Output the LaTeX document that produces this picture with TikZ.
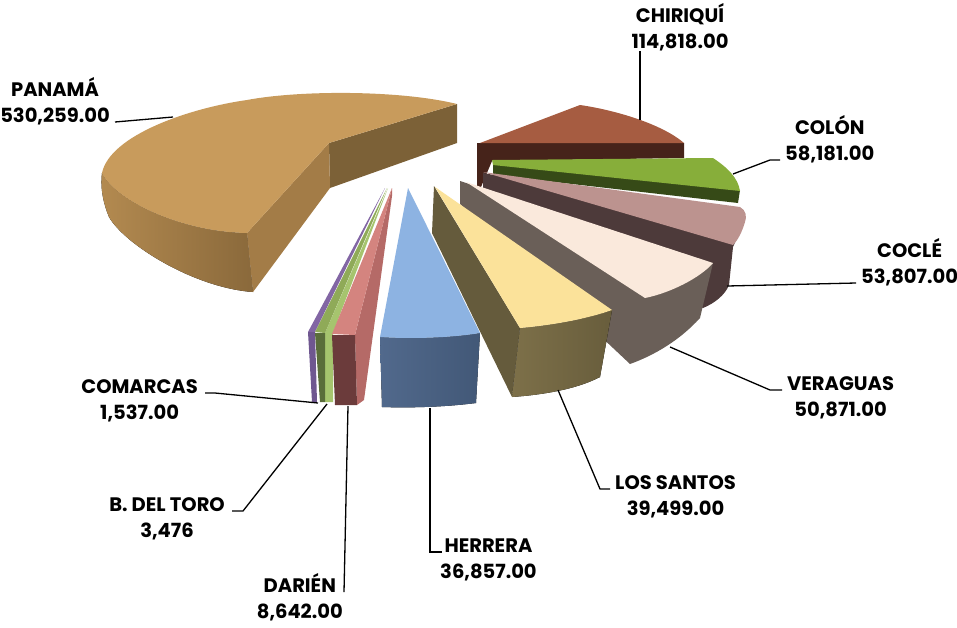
\documentclass[tikz,border=0pt]{standalone}
\usepackage{fontspec}
\setmainfont{Poppins}
\definecolor{panTop}{HTML}{C89B5C}
\definecolor{panFront}{HTML}{A37C47}
\definecolor{panSide}{HTML}{7C6137}
\definecolor{panOutL}{HTML}{B38A50}
\definecolor{panOutR}{HTML}{8A693B}
\definecolor{chiTop}{HTML}{A65C41}
\definecolor{chiSide}{HTML}{46231A}
\definecolor{colTop}{HTML}{87AE3A}
\definecolor{colSide}{HTML}{364A17}
\definecolor{cocTop}{HTML}{BC938F}
\definecolor{cocSide}{HTML}{4D3A3A}
\definecolor{verTop}{HTML}{FAE9DC}
\definecolor{verSide}{HTML}{6A5F58}
\definecolor{losTop}{HTML}{FBE29A}
\definecolor{losSide}{HTML}{655B3C}
\definecolor{losOutL}{HTML}{7D7049}
\definecolor{losOutR}{HTML}{685D3C}
\definecolor{herTop}{HTML}{8DB3E2}
\definecolor{herOutL}{HTML}{51698C}
\definecolor{herOutR}{HTML}{425877}
\definecolor{darTop}{HTML}{D4847F}
\definecolor{darSide}{HTML}{B56A67}
\definecolor{darFront}{HTML}{6B3B3B}
\definecolor{bdtTop}{HTML}{8FAA58}
\definecolor{bdtSide}{HTML}{A6C46E}
\definecolor{bdtFront}{HTML}{5A6D3A}
\definecolor{comTop}{HTML}{8266A4}
\definecolor{comFront}{HTML}{6F5790}
\tikzset{
    %Define style for the labels
    lbl/.style={
           font=\fontsize{19.5}{26}\selectfont\bfseries,
           align=center,
           inner xsep=5pt,
           inner ysep=0pt,
           text=black},
    %Define style for leader lines
    ldr/.style={
           draw=black,
           line width=1.3pt}
}
\begin{document}
\begin{tikzpicture}[x=1pt,y=-1pt]
\useasboundingbox (0,0) rectangle (957,627);

%Panama
\fill[left color=panOutL, right color=panOutR] (102,173) .. controls (115,200) and (180,232) .. (247,233) -- (253,292) .. controls (195,288) and (125,245) .. (109,217) .. controls (104,205) and (100,190) .. (102,173) -- cycle;
\fill[panSide] (329,143) -- (457,104) -- (457,143) -- (330,188) -- cycle;
\fill[panFront] (329,143) -- (247,233) -- (253,292) -- (330,188) -- cycle;
\fill[panTop] (329,143) -- (457,104) .. controls (400,90) and (300,90) .. (247,100) .. controls (190,108) and (110,135) .. (102,173) .. controls (115,200) and (180,232) .. (247,233) -- cycle;

%Chiriqui
\fill[chiSide] (477,143) -- (684,143) -- (684,158) -- (492,161) -- (481,187) -- (477,187) -- cycle;
\fill[chiTop] (480,143) -- (580,105) .. controls (615,110) and (662,124) .. (684,143) -- cycle;

%Colon
\fill[colSide] (493,163) -- (740,190) -- (738,203) -- (493,175) -- cycle;
\fill[colTop] (492,160) -- (713,158) .. controls (728,168) and (738,178) .. (740,191) -- (493,165) -- cycle;

%Cocle
\fill[cocSide] (483,173) -- (745,220) -- (733,247) -- (729,285) .. controls (725,295) and (715,303) .. (703,308) -- (600,260) -- (483,200) -- cycle;
\fill[cocTop] (483,172) -- (740,207) .. controls (746,210) and (747,217) .. (745,222) .. controls (742,232) and (738,240) .. (733,245) -- cycle;

%Veraguas
\fill[verSide] (460,181) -- (713,263) -- (700,318) .. controls (680,340) and (655,355) .. (630,364) -- (460,204) -- cycle;
\fill[verTop] (466,182) -- (713,263) .. controls (700,278) and (670,293) .. (645,298) -- cycle;

%Los Santos
\fill[losSide] (434,186) -- (520,328) -- (512,397) -- (432,233) -- cycle;
\fill[left color=losOutL, right color=losOutR] (520,328) .. controls (555,325) and (590,318) .. (612,310) -- (600,377) .. controls (575,390) and (540,395) .. (512,397) -- cycle;
\fill[losTop] (435,187) -- (612,310) .. controls (590,318) and (555,325) .. (520,328) -- cycle;

%Comarcas
\fill[comTop] (385,188) -- (315,332) -- (308,332) -- cycle;
\fill[comFront] (308,332) -- (315,332) -- (317,402) -- (312,402) -- cycle;

%B. del Toro
\fill[bdtSide] (388,188) -- (333,333) -- (333,402) -- (325,402) -- (325,333) -- cycle;
\fill[bdtTop] (387,188) -- (325,333) -- (315,332) -- cycle;
\fill[bdtFront] (315,333) -- (325,333) -- (325,402) -- (320,402) -- cycle;

%Darien
\fill[darSide] (392,188) -- (392,196) -- (364,400) -- (357,405) -- (355,335) -- cycle;
\fill[darFront] (332,335) -- (355,335) -- (357,405) -- (335,405) -- cycle;
\fill[darTop] (392,188) -- (355,335) -- (332,334) -- cycle;

%Herrera
\fill[left color=herOutL, right color=herOutR] (380,337) .. controls (410,339) and (450,338) .. (480,333) -- (476,403) .. controls (445,407) and (410,408) .. (382,407) -- cycle;
\fill[herTop] (408,188) -- (480,333) .. controls (450,338) and (410,339) .. (380,337) -- cycle;

%points on the slices
\coordinate (pt-pan) at (173,117);
\coordinate (pt-chi) at (640,120);
\coordinate (pt-col) at (733,174);
\coordinate (pt-coc) at (727,286);
\coordinate (pt-ver) at (670,347);
\coordinate (pt-los) at (558,390);
\coordinate (pt-her) at (430,408);
\coordinate (pt-dar) at (348,406);
\coordinate (pt-bdt) at (327,404);
\coordinate (pt-com) at (318,403);

%labels
\node[lbl, anchor=south east] (lbl-pan) at (115,125) {PANAMÁ\\530,259.00};
\node[lbl, anchor=south] (lbl-chi) at (680,51) {CHIRIQUÍ\\114,818.00};
\node[lbl, anchor=south west] (lbl-col) at (780,163) {COLÓN\\58,181.00};
\node[lbl, anchor=south west] (lbl-coc) at (856,286) {COCLÉ\\53,807.00};
\node[lbl, anchor=south west] (lbl-ver) at (782,419) {VERAGUAS\\50,871.00};
\node[lbl, anchor=south west] (lbl-los) at (610,518) {LOS SANTOS\\39,499.00};
\node[lbl, anchor=south west] (lbl-her) at (435,581) {HERRERA\\36,857.00};
\node[lbl, anchor=south east] (lbl-dar) at (348,621) {DARIÉN\\8,642.00};
\node[lbl, anchor=south east] (lbl-bdt) at (230,540) {B. DEL TORO\\3,476};
\node[lbl, anchor=south east] (lbl-com) at (203,422) {COMARCAS\\1,537.00};

%leader lines
\draw[ldr] (pt-pan) -- ([yshift=3pt]lbl-pan.south east);
\draw[ldr] (pt-chi) -- (pt-chi |- lbl-chi.south);
\draw[ldr] (pt-col) -- ([xshift=-10pt,yshift=3pt]lbl-col.south west) -- ([yshift=3pt]lbl-col.south west);
\draw[ldr] (pt-coc) -- ([yshift=3pt]lbl-coc.south west);
\draw[ldr] (pt-ver) -- ([xshift=-12pt,yshift=29pt]lbl-ver.south west) -- ([yshift=29pt]lbl-ver.south west);
\draw[ldr] (pt-los) -- ([xshift=-10pt,yshift=29pt]lbl-los.south west) -- ([yshift=29pt]lbl-los.south west);
\draw[ldr] (pt-her) -- ([xshift=-5pt,yshift=29pt]lbl-her.south west) -- ([xshift=7pt,yshift=29pt]lbl-her.south west);
\draw[ldr] (pt-dar) -- ([xshift=-4pt,yshift=29pt]lbl-dar.south east);
\draw[ldr] (pt-bdt) -- ([xshift=13pt,yshift=29pt]lbl-bdt.south east) -- ([xshift=2pt,yshift=29pt]lbl-bdt.south east);
\draw[ldr] (pt-com) -- ([xshift=12pt,yshift=29pt]lbl-com.south east) -- ([xshift=2pt,yshift=29pt]lbl-com.south east);

\end{tikzpicture}
\end{document}
